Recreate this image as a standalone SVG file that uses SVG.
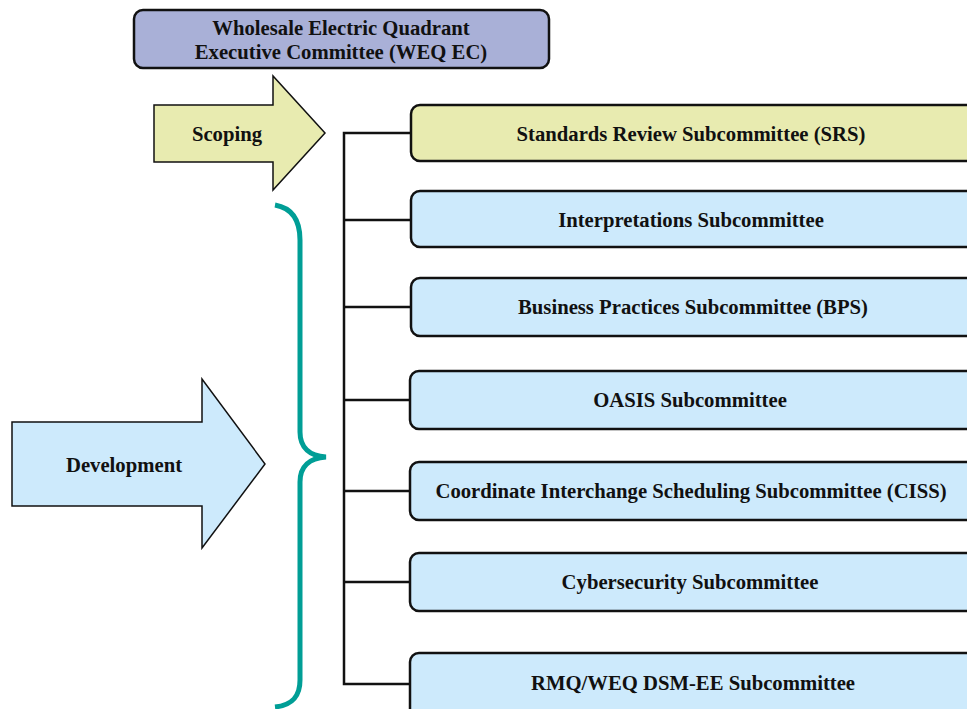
<svg xmlns="http://www.w3.org/2000/svg" width="967" height="709" viewBox="0 0 967 709">
<style>
  .t { font-family: "Liberation Serif", "Times New Roman", serif; font-weight: bold; font-size: 20.7px; fill: #111; text-anchor: middle; }
  .box { stroke: #111; stroke-width: 2.5; }
  .blue { fill: #cdeafc; }
  .yel { fill: #e8ebb0; }
  .conn { fill: none; stroke: #111; stroke-width: 2.5; }
  .arrow { stroke: #111; stroke-width: 1.5; stroke-linejoin: miter; }
</style>
<rect width="967" height="709" fill="#fff"/>

<g id="weq-ec">
  <rect class="box" x="134" y="10" width="415" height="58" rx="9" fill="#a9b0d7"/>
  <text class="t" x="341" y="35">Wholesale Electric Quadrant</text>
  <text class="t" x="341" y="59">Executive Committee (WEQ EC)</text>
</g>

<g id="scoping">
  <polygon class="arrow yel" points="154,105 273,105 273,76 325,133 273,190 273,162 154,162"/>
  <text class="t" x="227" y="141">Scoping</text>
</g>

<g id="development">
  <polygon class="arrow blue" points="12,422 202,422 202,379 265,464 202,548 202,506 12,506"/>
  <text class="t" x="124" y="472">Development</text>
</g>

<g id="brace">
  <path d="M275,205 C292,208 300,220 300,240 L300,432 C300,448 310,456 326,457 C310,458 300,466 300,482 L300,680 C300,697 292,705 275,707" fill="none" stroke="#009e96" stroke-width="5"/>
</g>

<g id="connectors">
  <path class="conn" d="M411,133 H344 V684 H411"/>
  <path class="conn" d="M344,220 H411 M344,307 H411 M344,400 H410 M344,491 H410 M344,582 H410"/>
</g>

<g id="srs">
  <rect class="box yel" x="411" y="105" width="580" height="56" rx="9"/>
  <text class="t" x="691" y="141">Standards Review Subcommittee (SRS)</text>
</g>
<g id="interpretations">
  <rect class="box blue" x="411" y="191" width="580" height="56" rx="9"/>
  <text class="t" x="691" y="227">Interpretations Subcommittee</text>
</g>
<g id="bps">
  <rect class="box blue" x="411" y="278" width="580" height="58" rx="9"/>
  <text class="t" x="693" y="314">Business Practices Subcommittee (BPS)</text>
</g>
<g id="oasis">
  <rect class="box blue" x="410" y="371" width="580" height="58" rx="9"/>
  <text class="t" x="690" y="407">OASIS Subcommittee</text>
</g>
<g id="ciss">
  <rect class="box blue" x="410" y="462" width="580" height="58" rx="9"/>
  <text class="t" x="691" y="498">Coordinate Interchange Scheduling Subcommittee (CISS)</text>
</g>
<g id="cybersecurity">
  <rect class="box blue" x="410" y="553" width="580" height="58" rx="9"/>
  <text class="t" x="690" y="589">Cybersecurity Subcommittee</text>
</g>
<g id="rmq-weq">
  <rect class="box blue" x="410" y="653" width="580" height="70" rx="9"/>
  <text class="t" x="693" y="690">RMQ/WEQ DSM-EE Subcommittee</text>
</g>
</svg>
